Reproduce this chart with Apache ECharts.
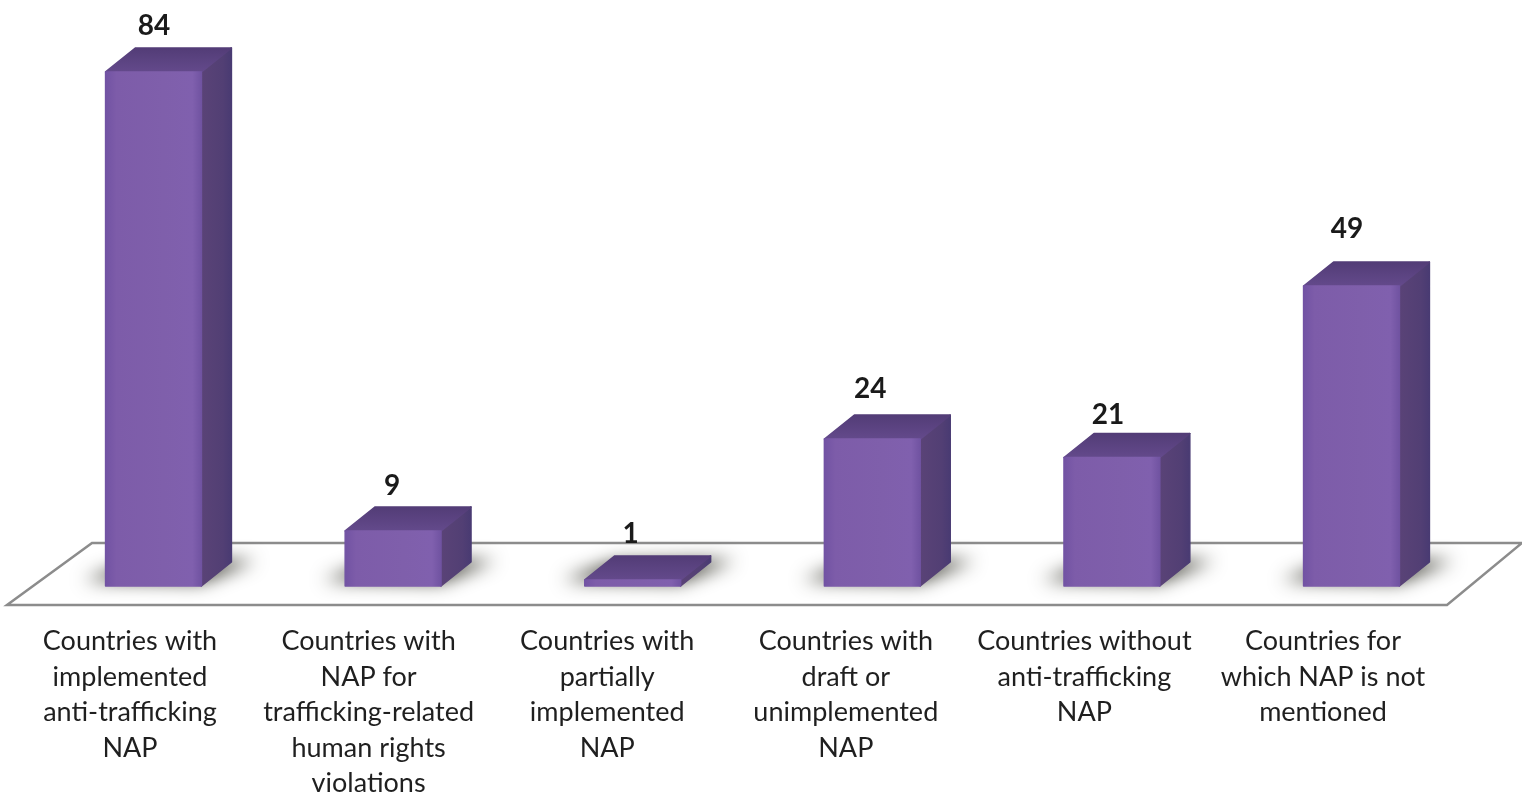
<!DOCTYPE html>
<html><head><meta charset="utf-8">
<style>html,body{margin:0;padding:0;background:#fff}#c{width:1522px;height:796px}</style>
<script src="https://cdn.jsdelivr.net/npm/echarts@6/dist/echarts.min.js"></script>
</head><body><div id="c"></div>
<script>
const categories = [
  "Countries with\nimplemented\nanti-trafficking\nNAP",
  "Countries with\nNAP for\ntrafficking-related\nhuman rights\nviolations",
  "Countries with\npartially\nimplemented\nNAP",
  "Countries with\ndraft or\nunimplemented\nNAP",
  "Countries without\nanti-trafficking\nNAP",
  "Countries for\nwhich NAP is not\nmentioned"
];
const values = [84, 9, 1, 24, 21, 49];
const labelLift = [46, 44.5, 46, 50, 43, 57];
const labelShift = [0.5, -1, -2, -2, -4, -4.5];

const chart = echarts.init(document.getElementById('c'), null, {renderer: 'canvas'});
const depthX = 30, depthY = 24, off = 3000;
const frontColor = {type:'linear',x:0,y:0,x2:1,y2:0,colorStops:[
  {offset:0,color:'#7152a3'},{offset:0.12,color:'#7d5ca9'},{offset:0.6,color:'#7f5fab'},{offset:0.9,color:'#8060ae'},{offset:1,color:'#6f52a0'}]};
const sideColor = {type:'linear',x:0,y:0,x2:1,y2:0,colorStops:[
  {offset:0,color:'#5a4377'},{offset:0.7,color:'#523f74'},{offset:1,color:'#483a72'}]};
const topColor = {type:'linear',x:0,y:1,x2:0,y2:0,colorStops:[
  {offset:0,color:'#644a8c'},{offset:1,color:'#523c76'}]};

function renderBar(params, api) {
  const idx = api.value(0);
  const val = api.value(1);
  const c = api.coord([idx, val]);
  const base = api.coord([idx, 0]);
  const w = api.size([1, 0])[0] * 0.4;
  const x0 = c[0] - w / 2, x1 = c[0] + w / 2, yt = c[1], yb = base[1];
  const poly = (pts, fill) => ({type:'polygon', shape:{points:pts},
    style:{fill:fill, stroke:fill, lineWidth:1.5, lineJoin:'round'}});
  const shadowPts = [[x0-22,yb-6],[x1,yb-4],[x1+depthX+24,yb-depthY-2],[x0+depthX,yb-depthY]]
    .map(p => [p[0]-off, p[1]]);
  return {type:'group', children:[
    {type:'polygon', shape:{points:shadowPts},
      style:{fill:'#555', shadowBlur:18, shadowOffsetX:off, shadowColor:'rgba(60,60,50,1)'}},
    poly([[x1,yt],[x1+depthX,yt-depthY],[x1+depthX,yb-depthY],[x1,yb]], sideColor),
    poly([[x0,yt],[x0+depthX,yt-depthY],[x1+depthX,yt-depthY],[x1,yt]], topColor),
    poly([[x0,yt],[x1,yt],[x1,yb],[x0,yb]], frontColor),
    {type:'text', style:{text:String(val), x:c[0]+labelShift[idx], y:yt-labelLift[idx], align:'center', verticalAlign:'middle',
      font:'bold 28px Lato, Carlito, sans-serif', fill:'#1a1a1a'}}
  ]};
}

chart.setOption({
  animation:false,
  backgroundColor:'#fff',
  graphic:[{type:'polygon', z:0, silent:true,
    shape:{points:[[92,543],[1522,543],[1447,605],[7,605]]},
    style:{fill:'#fff', stroke:'#8c8c8c', lineWidth:2.5}}],
  grid:[
    {left:33.7, top:35.2, width:1437.6, bottom:210, containLabel:false, outerBoundsMode:'none'},
    {left:10.7, top:35.2, width:1431.6, bottom:210, containLabel:false, outerBoundsMode:'none'}
  ],
  xAxis:[
    {type:'category', gridIndex:0, data:categories, axisLine:{show:false}, axisTick:{show:false}, axisLabel:{show:false}},
    {type:'category', gridIndex:1, data:categories, axisLine:{show:false}, axisTick:{show:false},
      axisLabel:{interval:0, margin:38, color:'#1f1f1f', fontFamily:'Lato, Carlito, sans-serif', fontSize:27,
        lineHeight:35.5, align:'center', verticalAlign:'top'}}
  ],
  yAxis:[
    {type:'value', gridIndex:0, min:0, max:90, show:false, splitLine:{show:false}},
    {type:'value', gridIndex:1, min:0, max:90, show:false, splitLine:{show:false}}
  ],
  series:[{type:'custom', z:5, clip:false, renderItem:renderBar, xAxisIndex:0, yAxisIndex:0,
    encode:{x:0,y:1}, data:values.map((v,i)=>[i,v])}]
});
</script></body></html>
